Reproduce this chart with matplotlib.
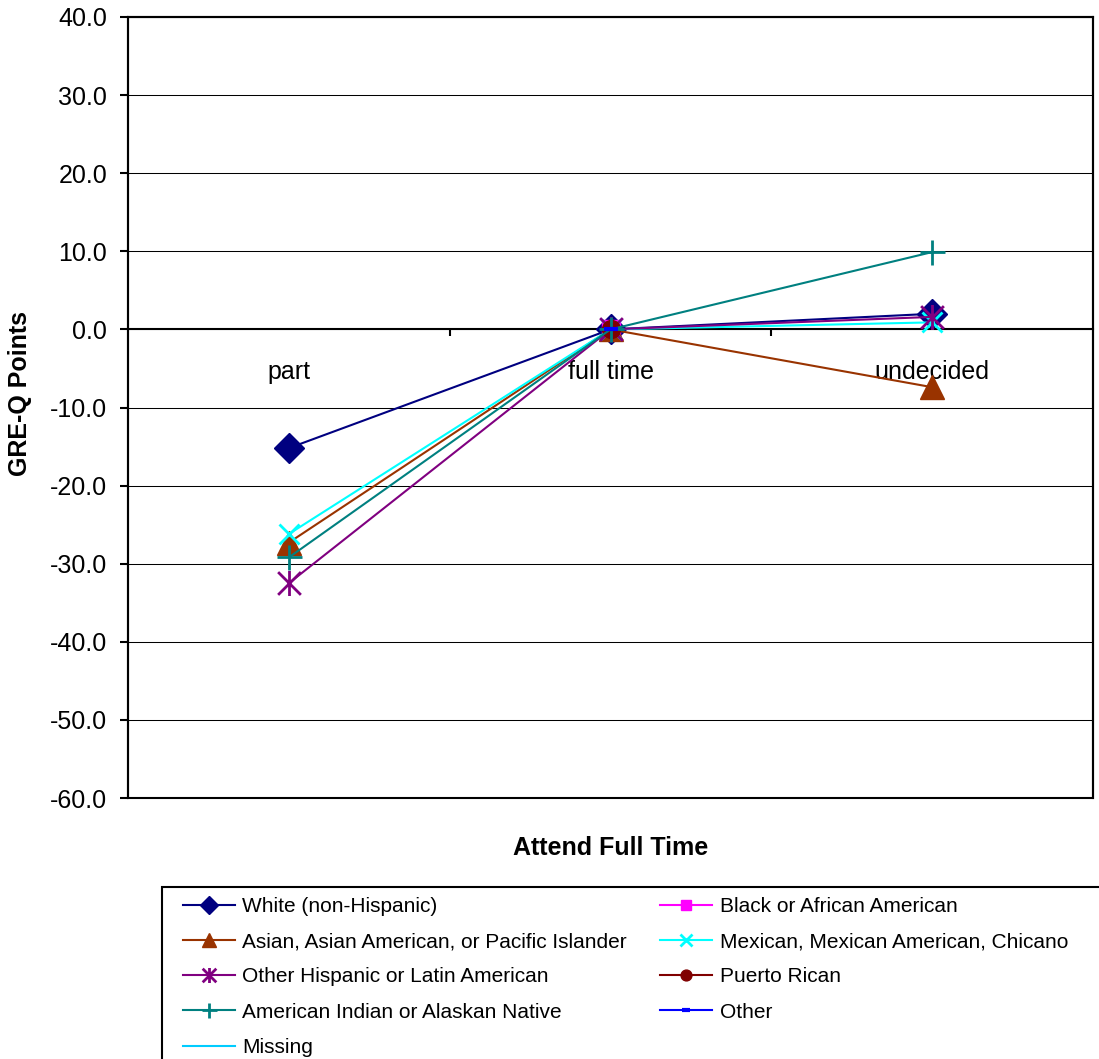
import numpy as np
import matplotlib
matplotlib.use("Agg")
import matplotlib.pyplot as plt
from matplotlib.patches import Rectangle
from matplotlib.path import Path
from matplotlib.ticker import FormatStrFormatter

plt.rcParams['font.family'] = ['Liberation Sans', 'DejaVu Sans']

categories = ['part', 'full time', 'undecided']
nan = np.nan

# GRE-Q difference from full-time students, by ethnic group
white = [-15.2, 0.0, 2.0]
black = [nan, 0.0, nan]
asian = [-27.3, 0.0, -7.4]
mexican = [-26.2, 0.0, 0.9]
other_hispanic = [-32.5, 0.0, 1.6]
puerto_rican = [nan, 0.0, nan]
american_indian = [-29.2, 0.0, 9.9]
other = [nan, 0.0, nan]
missing = [nan, 0.0, nan]

# asterisk made of an x plus a vertical bar
star = Path([(-1, -1), (1, 1), (-1, 1), (1, -1), (0, -1.1), (0, 1.1)],
            [Path.MOVETO, Path.LINETO, Path.MOVETO, Path.LINETO,
             Path.MOVETO, Path.LINETO])

series = [
    ("White (non-Hispanic)", white, "#000080", "D", 15, 1.0),
    ("Black or African American", black, "#FF00FF", "s", 13, 1.0),
    ("Asian, Asian American, or Pacific Islander", asian, "#993300", "^", 17, 1.0),
    ("Mexican, Mexican American, Chicano", mexican, "#00FFFF", "x", 15, 2.0),
    ("Other Hispanic or Latin American", other_hispanic, "#800080", star, 18, 2.0),
    ("Puerto Rican", puerto_rican, "#800000", "o", 13, 1.0),
    ("American Indian or Alaskan Native", american_indian, "#008080", "+", 18, 2.0),
    ("Other", other, "#0000FF", "_", 10, 3.0),
    ("Missing", missing, "#00CCFF", "None", 8, 1.0),
]

W, H = 1099, 1059
fig = plt.figure(figsize=(W / 100, H / 100), dpi=100)
ax = fig.add_axes([128 / W, 1 - 798 / H, (1093 - 128) / W, (798 - 17) / H])

x = np.arange(len(categories))
lines = []
for label, vals, color, marker, ms, mew in series:
    ln, = ax.plot(x, vals, color=color, lw=1.5, marker=marker, ms=ms,
                  mfc=color, mec=color, mew=mew, label=label,
                  clip_on=False, zorder=3)
    lines.append(ln)

ax.set_xlim(-0.5, 2.5)
ax.set_ylim(-60, 40)
ax.set_yticks(np.arange(-60, 41, 10))
ax.yaxis.set_major_formatter(FormatStrFormatter('%.1f'))
ax.grid(axis='y', color='black', lw=0.75)
ax.set_axisbelow(True)

# category axis crosses at zero, plot area keeps a full border
for s in ax.spines.values():
    s.set_linewidth(1.5)
ax.spines['bottom'].set_position(('data', 0))
ax.add_patch(Rectangle((0, 0), 1, 1, transform=ax.transAxes, fill=False,
                       lw=1.5, edgecolor='black', clip_on=False, zorder=2))

ax.set_xticks(x)
ax.set_xticklabels(categories)
ax.set_xticks([0.5, 1.5], minor=True)
ax.tick_params(axis='x', which='major', length=0, pad=22, labelsize=18)
ax.tick_params(axis='x', which='minor', length=5, width=1.5, direction='out')
ax.tick_params(axis='y', length=6, width=1.5, pad=9, labelsize=18)

ax.set_ylabel('GRE-Q Points', fontsize=18, fontweight='bold')
ax.yaxis.set_label_coords(-0.099, 0.518)
ax.set_xlabel('Attend Full Time', fontsize=18, fontweight='bold')
ax.xaxis.set_label_coords(0.5, -0.049)

# legend filled row by row, two columns
order = [0, 2, 4, 6, 8, 1, 3, 5, 7]
fig.legend([lines[i] for i in order], [series[i][0] for i in order],
           loc='upper left', bbox_to_anchor=(183 / W, 1 - 897 / H),
           ncol=2, frameon=False, fontsize=15, handlelength=2.5,
           handletextpad=0.35, columnspacing=1.6, labelspacing=0.78,
           markerscale=0.6, borderaxespad=0, borderpad=0)
fig.add_artist(Rectangle((162 / W, -0.05), 1.0, 1 - 887 / H + 0.05,
                         transform=fig.transFigure, fill=False, lw=1.5,
                         edgecolor='black'))

fig.savefig('out.png', dpi=100)
